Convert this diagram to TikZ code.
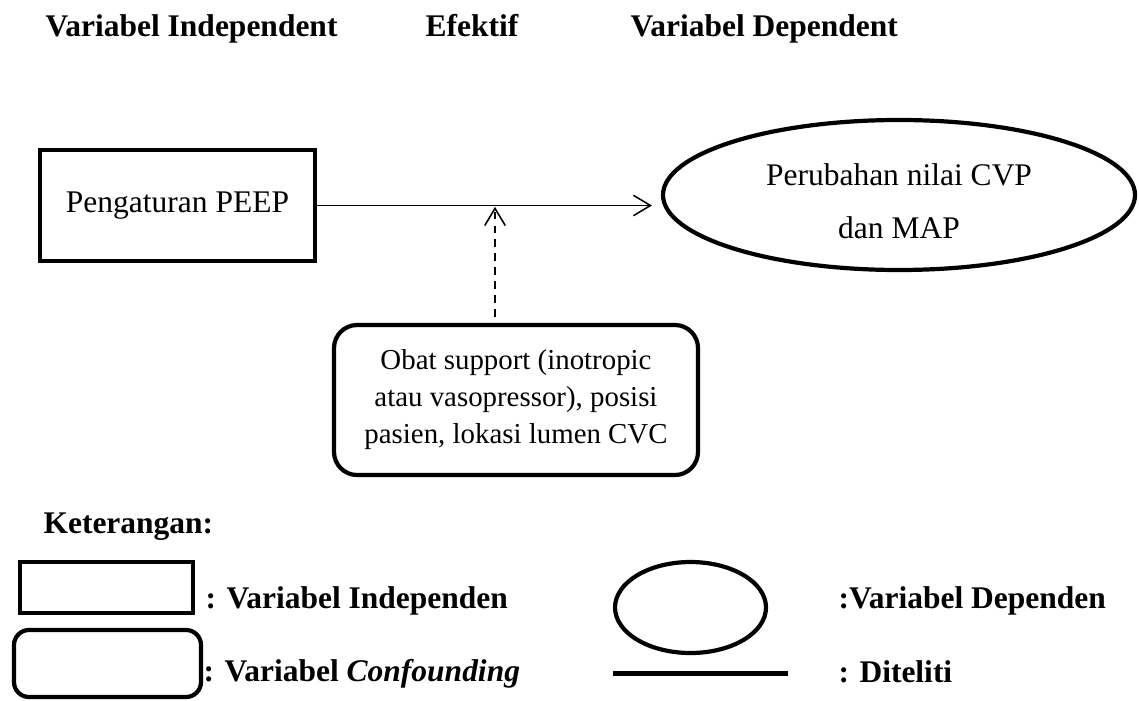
\documentclass[tikz,border=0pt]{standalone}
\usepackage{fontspec}
\setmainfont{Liberation Serif}
\usetikzlibrary{arrows.meta,shapes.geometric}
\newcommand\pxu{0.381pt}
\begin{document}
\begin{tikzpicture}[x=0.381pt,y=-0.381pt,
  font=\fontsize{12}{14.4}\selectfont,
  thickbox/.style={draw,line width=1.6pt,inner sep=0pt},
  lbl/.style={anchor=base west,inner sep=0pt,font=\fontsize{12}{14.4}\selectfont\bfseries},
  arr/.style={-{Straight Barb[length=6.5pt,width=7.8pt,line width=0.6pt]}},
]
\useasboundingbox (0,0) rectangle (1139,700);
% titles
\node[lbl] (t1) at (45,37) {Variabel Independent};
\node[lbl] (t2) at (425,37) {Efektif};
\node[lbl] (t3) at (630,37) {Variabel Dependent};
% main nodes
\node[thickbox,rectangle,minimum width={275*\pxu},minimum height={111*\pxu}] (pe) at (177.5,205.5) {Pengaturan PEEP};
\node[thickbox,ellipse,minimum width={472*\pxu},minimum height={150*\pxu}] (el) at (899,195) {};
\node[align=center,inner sep=0pt,font=\fontsize{12}{20.2}\selectfont] (elt) at (899,201) {Perubahan nilai CVP\\dan MAP};
\node[thickbox,rounded corners=8.8pt,minimum width={364*\pxu},minimum height={150*\pxu},align=center,font=\fontsize{11}{14.1}\selectfont] (ob) at (516,400) {Obat support (inotropic\\atau vasopressor), posisi\\pasien, lokasi lumen CVC};
% connectors
\draw[arr,line width=0.6pt,shorten >=3.4pt] (pe.east) -- (pe.east -| el.west);
\coordinate (m) at (495,204);
\draw[arr,line width=0.9pt,dash pattern=on 3pt off 2.3pt,shorten >=1.1pt,shorten <=2.3pt] (ob.north -| m) -- (m);
% legend
\node[lbl] (ket) at (43,533) {Keterangan:};
\node[thickbox,minimum width={173*\pxu},minimum height={51*\pxu}] (lr) at (106.5,587.5) {};
\node[lbl] (lrt) at (205,608) {: Variabel Independen};
\node[thickbox,rounded corners=5.7pt,minimum width={187*\pxu},minimum height={67*\pxu}] (lrr) at (107.5,663.5) {};
\node[lbl] (lrrt) at (203,681) {: Variabel \textit{Confounding}};
\node[thickbox,ellipse,minimum width={151*\pxu},minimum height={91*\pxu}] (le) at (690.5,607.5) {};
\node[lbl] (let) at (838,608) {:Variabel Dependen};
\coordinate (la) at (613,673);
\coordinate (lb) at (788,673);
\draw[line width=1.9pt] (la) -- (lb);
\node[lbl] (llt) at (838,682) {: Diteliti};
\end{tikzpicture}
\end{document}
